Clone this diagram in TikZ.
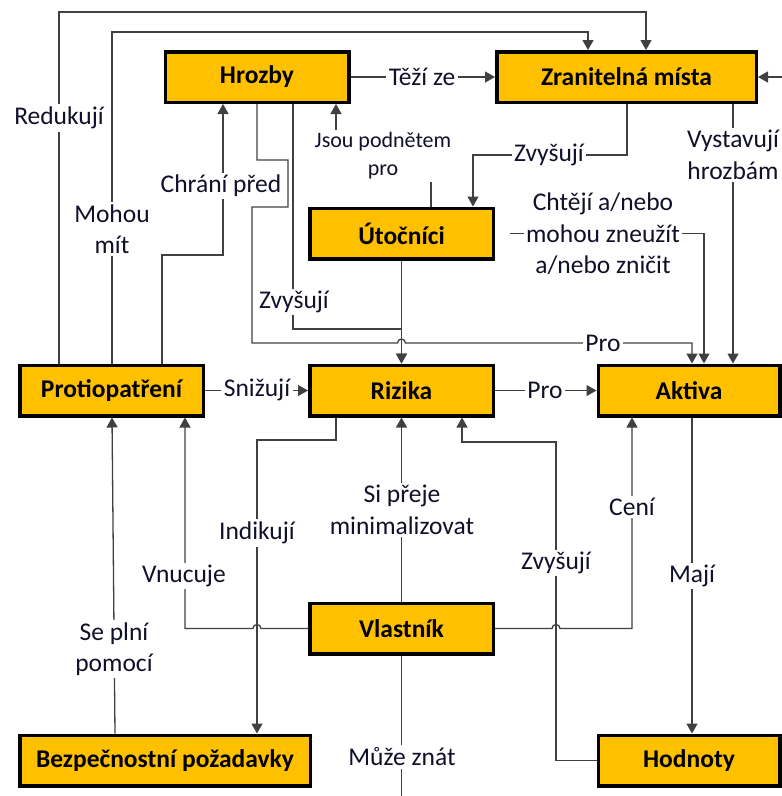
\documentclass[tikz,border=0pt]{standalone}
\usepackage{fontspec}
\setmainfont{Carlito}
\usetikzlibrary{arrows.meta}
\definecolor{boxfill}{HTML}{FFC000}
\definecolor{linec}{HTML}{404040}
\definecolor{labtext}{HTML}{10102A}
\begin{document}
\begin{tikzpicture}[x=1pt,y=-1pt,
  box/.style={draw=black, line width=3.5pt, fill=boxfill, font=\bfseries\fontsize{25.5}{30}\selectfont, minimum height=50.5pt, inner sep=0pt},
  conn/.style={draw=linec, line width=1.3pt, -{Triangle[length=10pt,width=11pt]}},
  plain/.style={draw=linec, line width=1.3pt},
  lab/.style={fill=white, inner sep=2.5pt, align=center, font=\fontsize{25.5}{31.5}\selectfont, text=labtext}
]
\useasboundingbox (0,0) rectangle (782,796);
\node[box, minimum width=183.5pt] (hro) at (257,77) {Hrozby};
\node[box, minimum width=259.5pt] (zra) at (626.5,77) {Zranitelná místa};
\node[box, minimum width=183.5pt] (uto) at (401.5,233.5) {Útočníci};
\node[box, minimum width=183.5pt] (pro) at (111.5,390.5) {Protiopatření};
\node[box, minimum width=183.5pt] (riz) at (401.5,390.5) {Rizika};
\node[box, minimum width=181.5pt] (akt) at (689,390.5) {Aktiva};
\node[box, minimum width=183.5pt] (vla) at (401.5,628.5) {Vlastník};
\node[box, minimum width=290.5pt] (bez) at (165,760.5) {Bezpečnostní požadavky};
\node[box, minimum width=181.5pt] (hod) at (689,760.5) {Hodnoty};
\coordinate (mz) at (401.5,800);
\coordinate (zr) at (790,77);
% connectors
\draw[conn] (59,0 |- pro.north) -- (59,12) -- (646,12) -- (646,0 |- zra.north);
\draw[conn] (112,0 |- pro.north) -- (112,32) -- (588,32) -- (588,0 |- zra.north);
\draw[conn] (162,0 |- pro.north) -- (162,255) -- (223,255) -- (223,0 |- hro.south);
\draw[conn] (hro.east) -- (zra.west);
\draw[conn] (431,0 |- uto.north) -- (431,155) -- (336,155) -- (336,0 |- hro.south);
\draw[conn] (627,0 |- zra.south) -- (627,155) -- (473,155) -- (473,0 |- uto.north);
\draw[conn] (733,0 |- zra.south) -- (733,0 |- akt.north);
\draw[conn] ([xshift=15pt]uto.east) -- (704,233.5) -- (704,0 |- akt.north);
\draw[conn] (257,0 |- hro.south) -- (257,160) -- (288,160) -- (288,207) -- (252,207) -- (252,343) -- (397.5,343) arc[start angle=180,end angle=0,radius=4pt] -- (692,343) -- (692,0 |- akt.north);
\draw[conn] (293,0 |- hro.south) -- (293,329) -- (401.5,329) -- (riz.north);
\draw[conn] (uto.south) -- (riz.north);
\draw[conn] (pro.east) -- (riz.west);
\draw[conn] (riz.east) -- (akt.west);
\draw[conn] (336,0 |- riz.south) -- (336,440) -- (257,440) -- (257,0 |- bez.north);
\draw[conn] (vla.west) -- (261,628.5) arc[start angle=0,end angle=180,radius=4pt] -- (185,628.5) -- (185,0 |- pro.south);
\draw[conn] (115,0 |- bez.north) -- (112,0 |- pro.south);
\draw[conn] (vla.north) -- (riz.south);
\draw[conn] (hod.west) -- (556,760.5) -- (556,442) -- (462,442) -- (462,0 |- riz.south);
\draw[conn] (vla.east) -- (552,628.5) arc[start angle=180,end angle=0,radius=4pt] -- (632,628.5) -- (632,0 |- akt.south);
\draw[conn] (692,0 |- akt.south) -- (692,0 |- hod.north);
\draw[plain] (vla.south) -- (mz);
\draw[conn] (zr) -- (zra.east);
% labels
\node[lab] (l1) at (59,118) {Redukují};
\node[lab] (l2) at (112,229) {Mohou\\mít};
\node[lab] (l3) at (221,186) {Chrání před};
\node[lab] (l4) at (422,77) {Těží ze};
\node[lab, font=\fontsize{22}{28}\selectfont] (l5) at (383,156) {Jsou podnětem\\pro};
\node[lab] (l6) at (549,155) {Zvyšují};
\node[lab] (l7) at (733,155) {Vystavují\\hrozbám};
\node[lab] (l8) at (603,234) {Chtějí a/nebo\\mohou zneužít\\a/nebo zničit};
\node[lab] (l9) at (294,302) {Zvyšují};
\node[lab] (l10) at (603,343) {Pro};
\node[lab] (l11) at (257,390) {Snižují};
\node[lab] (l12) at (545,390) {Pro};
\node[lab] (l13) at (402,510) {Si přeje\\minimalizovat};
\node[lab] (l14) at (257,533) {Indikují};
\node[lab] (l15) at (184,576) {Vnucuje};
\node[lab] (l16) at (556,563) {Zvyšují};
\node[lab] (l17) at (632,507) {Cení};
\node[lab] (l18) at (692,576) {Mají};
\node[lab] (l19) at (114,649) {Se plní\\pomocí};
\node[lab] (l20) at (402,757) {Může znát};
\end{tikzpicture}
\end{document}
